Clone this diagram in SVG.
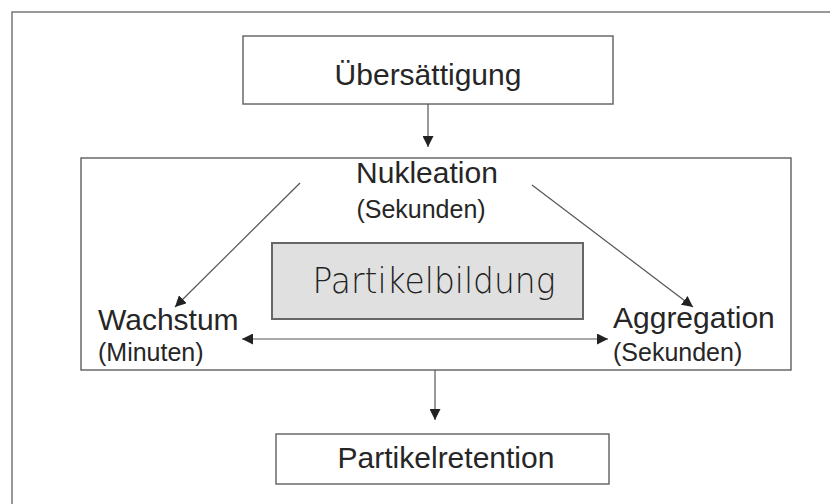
<svg xmlns="http://www.w3.org/2000/svg" width="830" height="504" viewBox="0 0 830 504">
<style>
.t{font-family:"Liberation Sans",Arial,sans-serif;fill:#262626}
.big{font-size:30px}
.sm{font-size:25px}
.box{fill:#fff;stroke:#6a6a6a;stroke-width:1.5}
.ln{stroke:#555;stroke-width:1.2;fill:none}
</style>
<defs>
<marker id="ah" viewBox="0 0 10 10" refX="10" refY="5" markerWidth="11" markerHeight="11" markerUnits="userSpaceOnUse" orient="auto-start-reverse">
<path d="M0,0 L10,5 L0,10 z" fill="#222"/>
</marker>
</defs>
<rect width="830" height="504" fill="#fff"/>
<path d="M12,504 V12 H830" fill="none" stroke="#777" stroke-width="1.5"/>
<g id="uebersaettigung">
<rect class="box" x="243" y="36" width="370" height="68"/>
<text class="t big" x="428" y="85" text-anchor="middle">Übersättigung</text>
</g>
<g id="prozess">
<rect class="box" x="81" y="158" width="710" height="212"/>
</g>
<g id="nukleation">
<text class="t big" x="427" y="183" text-anchor="middle">Nukleation</text>
<text class="t sm" x="421" y="218" text-anchor="middle">(Sekunden)</text>
</g>
<g id="partikelbildung">
<rect x="272" y="243" width="311" height="76" fill="#e0e0e0" stroke="#666" stroke-width="2"/>
<text x="434" y="293" text-anchor="middle" font-family="'DejaVu Sans',sans-serif" font-size="35" font-weight="300" fill="#222" textLength="243" lengthAdjust="spacingAndGlyphs">Partikelbildung</text>
</g>
<g id="wachstum">
<text class="t big" x="98" y="330">Wachstum</text>
<text class="t sm" x="98" y="361">(Minuten)</text>
</g>
<g id="aggregation">
<text class="t big" x="613" y="328">Aggregation</text>
<text class="t sm" x="613" y="361">(Sekunden)</text>
</g>
<g id="partikelretention">
<rect class="box" x="276" y="434" width="333" height="50"/>
<text class="t big" x="446" y="468" text-anchor="middle">Partikelretention</text>
</g>
<g id="connectors">
<line class="ln" x1="428" y1="104" x2="428" y2="147" marker-end="url(#ah)"/>
<line class="ln" x1="300" y1="183" x2="175" y2="307" marker-end="url(#ah)"/>
<line class="ln" x1="532" y1="185" x2="693" y2="307" marker-end="url(#ah)"/>
<line class="ln" x1="242" y1="339" x2="608" y2="339" marker-start="url(#ah)" marker-end="url(#ah)"/>
<line class="ln" x1="435" y1="370" x2="435" y2="420" marker-end="url(#ah)"/>
</g>
</svg>
